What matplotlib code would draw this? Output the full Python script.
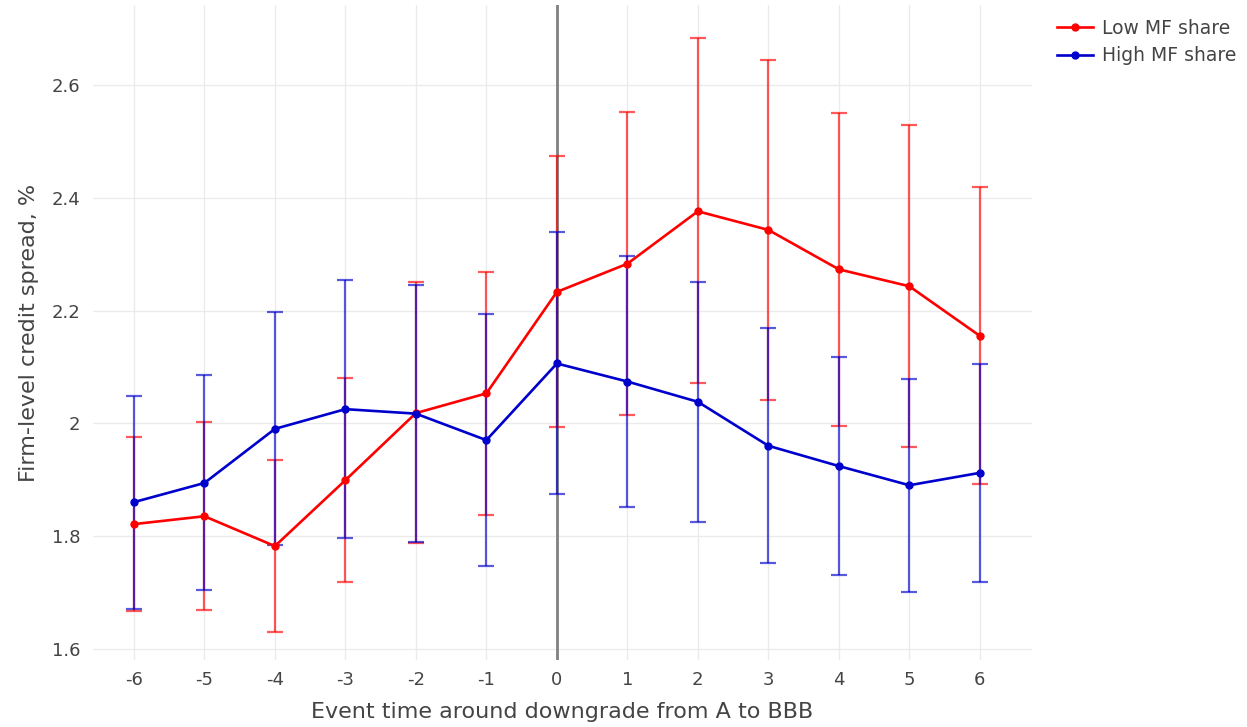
import matplotlib
matplotlib.use("Agg")
import matplotlib.pyplot as plt
from matplotlib.lines import Line2D

# event time
event_time = [-6, -5, -4, -3, -2, -1, 0, 1, 2, 3, 4, 5, 6]

# Low MF share: mean, lower, upper
low_mean = [1.821, 1.835, 1.782, 1.899, 2.018, 2.053, 2.233, 2.283, 2.376, 2.343, 2.273, 2.243, 2.155]
low_lo = [1.667, 1.669, 1.630, 1.718, 1.787, 1.837, 1.994, 2.014, 2.072, 2.042, 1.995, 1.957, 1.892]
low_hi = [1.975, 2.003, 1.935, 2.080, 2.251, 2.269, 2.474, 2.552, 2.683, 2.644, 2.550, 2.529, 2.420]

# High MF share
high_mean = [1.860, 1.894, 1.990, 2.025, 2.017, 1.970, 2.106, 2.074, 2.038, 1.960, 1.924, 1.890, 1.912]
high_lo = [1.671, 1.704, 1.784, 1.796, 1.789, 1.747, 1.874, 1.852, 1.824, 1.752, 1.730, 1.701, 1.718]
high_hi = [2.048, 2.086, 2.198, 2.254, 2.245, 2.194, 2.339, 2.297, 2.250, 2.169, 2.117, 2.079, 2.105]

RED = "#ff0000"
BLUE = "#0000cd"
TXT = "#444444"

fig = plt.figure(figsize=(12.47, 7.27), dpi=100)
ax = fig.add_axes([0.0746, 0.0922, 0.7530, 0.9009])

for m, lo, hi, c in [(low_mean, low_lo, low_hi, RED), (high_mean, high_lo, high_hi, BLUE)]:
    err = [[a - b for a, b in zip(m, lo)], [b - a for a, b in zip(m, hi)]]
    ax.errorbar(event_time, m, yerr=err, fmt="none", ecolor=c, alpha=0.65,
                elinewidth=1.6, capsize=6, capthick=1.6, zorder=2)

ax.axvline(0, color="#808080", lw=2, zorder=1.5)

ax.plot(event_time, low_mean, color=RED, lw=1.9, marker="o", ms=5, zorder=3)
ax.plot(event_time, high_mean, color=BLUE, lw=1.9, marker="o", ms=5, zorder=3)

ax.set_xlim(-6.58, 6.74)
ax.set_ylim(1.580, 2.742)
ax.set_xticks(event_time)
ax.set_xticklabels([str(t) for t in event_time])
ax.set_yticks([1.6, 1.8, 2.0, 2.2, 2.4, 2.6])
ax.set_yticklabels(["1.6", "1.8", "2", "2.2", "2.4", "2.6"])
ax.grid(True, color="#ebebeb", lw=1)
ax.set_axisbelow(True)
for s in ax.spines.values():
    s.set_visible(False)
ax.tick_params(length=0, labelsize=13, colors=TXT)
ax.tick_params(axis="x", pad=8)
ax.tick_params(axis="y", pad=9)

ax.set_xlabel("Event time around downgrade from A to BBB", fontsize=16, color=TXT, labelpad=9)
ax.set_ylabel("Firm-level credit spread, %", fontsize=16, color=TXT, labelpad=9)

handles = [Line2D([], [], color=RED, lw=1.9, marker="o", ms=5),
           Line2D([], [], color=BLUE, lw=1.9, marker="o", ms=5)]
fig.legend(handles, ["Low MF share", "High MF share"], loc="upper left",
           bbox_to_anchor=(0.834, 0.997), frameon=False, fontsize=13.5,
           labelcolor=TXT, handlelength=1.95, handletextpad=0.45, labelspacing=0.45)

fig.savefig("out.png", dpi=100)
